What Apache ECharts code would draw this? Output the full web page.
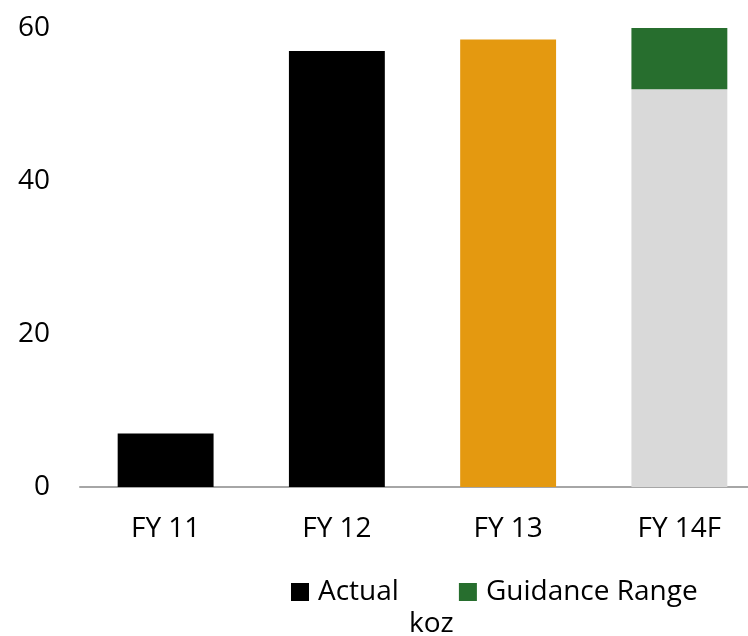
<!DOCTYPE html>
<html>
<head>
<meta charset="utf-8">
<script src="https://cdn.jsdelivr.net/npm/echarts@6/dist/echarts.min.js"></script>
<style>
  html, body { margin: 0; padding: 0; background: #fff; }
  #chart { width: 748px; height: 636px; }
</style>
</head>
<body>
<div id="chart"></div>
<script>
const categories = ['FY 11', 'FY 12', 'FY 13', 'FY 14F']
// base bar heights (koz)
const actualValues = [7, 57, 58.5, 52]
// guidance range stacked on FY 14F
const guidanceValues = ['-', '-', '-', 8]
const barColors = ['#000000', '#000000', '#e49910', '#d9d9d9']
const yTicks = { min: 0, max: 60, interval: 20 }

const font = 'Open Sans'
const myChart = echarts.init(document.getElementById('chart'))
const option = {
  animation: false,
  textStyle: { fontFamily: font },
  grid: {
    left: 80,
    width: 685,
    top: 28,
    bottom: 149,
    outerBoundsMode: 'none'
  },
  legend: {
    data: ['Actual', 'Guidance Range'],
    left: 291,
    top: 578,
    padding: 0,
    itemWidth: 18,
    itemHeight: 18,
    itemGap: 60,
    icon: 'rect',
    textStyle: { fontSize: 28, color: '#000', fontFamily: font, padding: [0, 0, 0, 4] }
  },
  graphic: [{
    type: 'text',
    left: 409,
    top: 610,
    style: { text: 'koz', fontSize: 28, fill: '#000', fontFamily: font }
  }],
  xAxis: {
    type: 'category',
    data: categories,
    axisLine: { lineStyle: { color: '#a6a6a6', width: 2 } },
    axisTick: { show: false },
    axisLabel: { fontSize: 28, color: '#000', margin: 28, fontFamily: font }
  },
  yAxis: {
    type: 'value',
    min: yTicks.min,
    max: yTicks.max,
    interval: yTicks.interval,
    splitLine: { show: false },
    axisLine: { show: false },
    axisTick: { show: false },
    axisLabel: { fontSize: 28, color: '#000', margin: 30, fontFamily: font }
  },
  series: [
    {
      name: 'Actual',
      type: 'bar',
      stack: 'total',
      barCategoryGap: '44%',
      itemStyle: { color: '#000000' },
      data: actualValues.map((v, i) => ({ value: v, itemStyle: { color: barColors[i] } }))
    },
    {
      name: 'Guidance Range',
      type: 'bar',
      stack: 'total',
      itemStyle: { color: '#276e2e' },
      data: guidanceValues
    }
  ]
}
myChart.setOption(option)
</script>
</body>
</html>
